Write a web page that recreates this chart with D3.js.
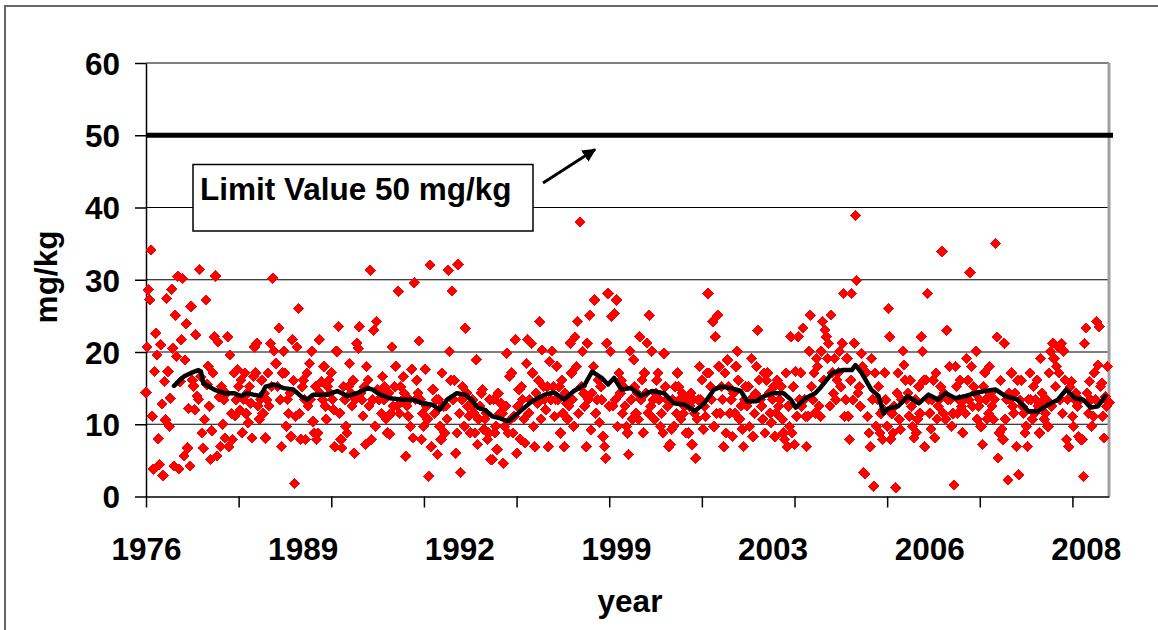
<!DOCTYPE html>
<html><head><meta charset="utf-8">
<script src="https://cdn.jsdelivr.net/npm/d3@7"></script>
<style>
body{margin:0;background:#fff}
svg text{font-family:"Liberation Sans",Arial,sans-serif;font-weight:bold;fill:#000}
</style>
</head><body>
<svg id="chart" width="1158" height="630"></svg>
<script>
// ---- data ----
const yTicks = [0, 10, 20, 30, 40, 50, 60];
const xLabels = ["1976", "1989", "1992", "1999", "2003", "2006", "2008"];
const labelStep = 128.5;   // samples between year labels
const tickStep = 76;       // samples between axis tick marks
const limitValue = 50;
const limitText = "Limit Value 50 mg/kg";
const yTitle = "mg/kg";
const xTitle = "year";

// measured concentrations (mg/kg), in sample order
const values = [
14.4,20.7,28.6,27.2,34.1,11.1,3.8,17.3,22.6,19.6,8.0,4.4,21.0,12.8,2.9,15.9,10.6,27.4,
17.3,9.7,13.6,28.7,20.5,4.2,25.1,19.4,30.5,3.8,15.9,21.7,30.2,5.6,18.9,23.9,6.7,12.2,
4.2,26.3,16.1,15.3,12.0,22.4,13.9,13.4,31.4,16.6,8.8,6.7,10.7,27.2,15.5,18.0,12.5,5.1,
9.1,17.1,22.1,30.5,5.6,21.4,13.8,6.9,15.2,10.0,13.4,8.1,14.3,22.1,6.9,19.6,11.5,7.9,
17.1,11.1,13.4,17.6,15.2,12.0,16.1,8.8,13.4,17.1,11.5,14.3,10.2,15.2,12.9,8.1,16.6,
20.7,17.1,21.2,12.5,10.7,13.4,16.1,11.5,14.3,8.1,13.4,17.1,12.5,21.2,15.2,30.2,20.1,18.4,
18.4,15.2,23.3,13.4,6.9,17.1,20.1,17.1,9.7,13.4,11.5,14.3,8.3,21.7,16.1,1.8,11.1,
20.7,26.0,11.5,7.9,15.2,16.1,13.4,7.9,17.1,12.5,18.4,13.4,20.1,10.4,8.8,15.2,7.9,
8.8,21.7,14.3,15.9,13.4,18.0,12.5,10.7,15.2,16.1,14.3,17.1,13.4,12.0,6.9,20.1,
20.1,23.5,11.5,7.9,6.7,15.2,13.4,9.7,8.8,15.2,18.4,14.3,12.5,16.1,6.0,13.4,
21.2,20.5,23.5,14.3,13.4,11.1,15.2,7.2,18.0,16.1,12.5,31.3,7.9,13.4,23.0,9.7,24.2,
14.8,13.4,14.3,11.5,16.6,13.4,15.2,10.7,8.8,14.3,8.6,11.5,20.7,12.5,15.2,
18.0,12.5,28.4,11.5,15.2,13.4,16.6,14.3,5.6,12.5,11.1,13.4,9.7,17.6,8.1,
29.6,13.4,16.1,14.3,21.5,13.4,7.9,11.5,9.7,17.6,12.5,10.7,2.8,32.0,6.9,14.8,
14.8,11.5,13.4,5.8,13.4,9.7,7.9,17.1,12.5,8.8,12.5,10.7,31.3,20.1,16.1,28.4,
13.4,16.1,6.0,8.8,32.1,11.5,3.3,13.4,15.2,9.7,23.3,14.3,12.5,11.1,8.8,12.5,
13.4,11.5,8.8,18.9,7.2,10.7,12.5,14.3,14.8,9.3,10.7,11.5,7.9,8.8,13.4,5.1,
5.1,13.4,8.8,9.7,6.5,14.3,11.5,12.9,11.5,4.6,9.7,12.5,19.8,8.8,16.6,10.7,
17.1,8.8,11.1,21.7,6.0,12.5,14.8,7.9,15.2,13.4,10.7,7.4,18.4,21.7,11.5,13.4,
21.2,17.1,9.7,6.9,14.3,12.9,16.1,24.2,10.7,20.3,15.2,13.4,12.0,15.2,6.9,18.7,
13.4,20.1,15.2,11.1,13.4,18.0,13.4,15.2,8.8,16.1,11.5,6.9,14.3,12.9,10.7,12.5,
21.2,17.1,13.4,9.7,22.1,18.0,24.2,11.5,38.0,15.2,20.1,14.3,12.5,6.9,21.2,13.4,25.1,
9.2,14.3,18.0,27.2,11.5,13.4,16.1,10.2,15.2,13.4,8.3,6.9,5.3,21.2,28.1,12.5,
20.1,24.9,12.5,25.3,13.4,27.2,9.7,17.1,14.3,16.1,11.5,15.2,12.5,9.7,8.8,5.8,
20.1,13.4,10.7,18.9,15.2,11.5,14.3,10.7,22.1,13.4,16.1,8.8,17.1,14.3,21.2,11.5,
25.1,12.5,20.1,13.4,10.7,14.3,16.1,17.1,13.4,9.7,11.5,8.8,19.8,15.2,13.4,12.5,
6.9,7.2,9.3,13.4,9.7,15.2,11.5,17.1,15.2,13.4,10.7,14.3,11.5,12.5,8.8,13.4,
8.8,12.5,14.3,7.2,13.4,11.5,5.3,10.7,13.4,18.0,13.4,16.1,9.3,12.5,11.1,17.1,
28.1,17.1,15.2,13.4,24.2,9.7,22.1,11.5,25.1,18.0,11.5,15.2,13.4,6.9,17.1,8.8,
18.9,15.2,11.5,13.4,8.3,14.3,11.5,18.0,20.1,16.1,10.7,12.5,9.3,6.9,13.4,15.2,
12.5,15.2,9.7,13.4,19.1,8.3,11.5,14.3,18.0,23.0,16.1,13.4,12.5,10.7,17.1,8.8,
16.1,17.1,14.3,11.5,10.2,13.4,15.2,8.3,11.5,16.1,12.5,13.4,15.2,10.7,8.8,7.9,
17.1,6.9,12.5,9.7,22.1,8.8,15.2,7.2,17.3,11.1,22.1,13.4,17.1,12.5,23.3,13.4,11.1,6.9,
11.1,20.1,25.1,15.2,13.4,17.1,11.5,19.1,18.0,12.5,11.1,20.1,24.2,16.1,23.0,
22.1,19.1,21.2,12.5,25.1,17.1,14.3,19.1,13.4,16.1,17.1,20.1,15.2,21.2,28.1,11.1,13.4,
19.1,11.1,7.9,16.1,28.1,13.4,21.2,38.9,29.9,14.3,15.2,12.5,19.8,18.0,3.3,3.1,
17.1,11.1,8.8,6.9,19.1,13.4,1.4,17.1,9.7,13.4,15.2,8.8,11.5,7.9,12.0,17.1,
13.4,9.7,26.0,22.1,7.9,11.5,8.8,12.5,1.2,14.3,17.1,10.7,9.3,13.4,20.1,18.2,
16.1,13.4,14.3,11.1,16.1,12.5,9.7,8.1,13.4,8.8,10.7,15.2,11.5,22.1,20.1,16.1,
6.9,16.1,28.1,13.4,11.5,9.3,13.4,16.1,8.1,17.1,10.7,12.5,13.4,15.2,33.9,11.5,
14.3,10.7,23.0,13.4,18.0,13.4,9.7,11.5,1.6,18.0,15.2,11.5,13.4,16.1,12.5,8.8,
13.4,11.5,19.1,16.1,13.4,31.0,18.0,12.5,15.2,14.3,20.1,10.7,12.5,13.4,9.7,7.2,
15.2,17.1,13.4,10.7,11.5,18.0,14.3,12.5,10.7,13.4,35.0,22.1,5.3,8.8,16.1,
9.3,7.9,21.2,10.7,13.4,2.3,14.3,13.4,17.1,12.5,11.5,14.3,6.9,16.1,3.0,13.4,
16.1,12.5,11.5,8.8,9.7,6.9,13.4,17.1,13.4,10.7,15.2,11.5,13.4,16.1,12.5,8.8,
19.1,14.3,13.4,10.7,11.5,13.4,9.7,17.1,20.1,12.5,21.2,19.1,15.2,18.0,20.7,17.1,13.4,
21.2,11.5,20.1,16.1,7.9,13.4,6.9,15.2,15.9,11.1,9.7,13.4,14.3,12.5,8.3,13.4,7.9,
7.9,2.8,21.2,23.3,14.3,11.5,15.9,13.4,9.7,11.1,17.1,13.4,24.2,18.2,23.5,15.2,
15.7,11.1,8.1,13.8,12.5,18.0,13.0
];

// moving-average trend (sample index, mg/kg)
const trendIdx = [23,31,37,43,45,47,51,56,64,72,78,83,88,94,98,105,113,121,127,132,137,149,157,165,173,182,186,192,200,211,219,227,235,241,247,255,262,267,272,278,284,289,297,305,316,327,335,343,351,360,366,374,379,384,390,398,406,415,425,433,442,450,458,466,472,480,488,493,501,507,515,523,529,533,541,549,554,563,571,579,582,587,595,601,605,609,617,625,634,642,650,656,664,672,680,688,697,705,715,724,732,740,748,755,762,769,775,781,787];
const trendVal = [15.3,16.6,17.1,17.5,17.3,15.7,15.3,14.8,14.3,14.3,13.9,14.3,14.1,13.9,15.2,15.5,15.0,14.8,13.9,13.4,14.1,14.1,14.6,13.9,14.3,15.0,14.8,14.1,13.6,13.4,13.4,12.9,12.7,12.0,13.4,14.3,14.1,13.4,12.3,12.0,11.1,10.9,10.4,11.5,13.1,14.1,14.4,13.4,14.6,15.5,17.3,16.4,15.5,16.4,14.8,15.0,13.9,14.6,14.3,12.9,12.7,11.8,12.9,14.8,15.2,15.0,14.6,13.2,13.2,13.9,14.3,14.3,13.4,12.3,13.6,14.3,15.2,17.1,17.5,17.5,18.2,17.1,14.8,13.9,11.5,12.2,12.5,13.9,12.9,14.1,13.4,14.3,13.6,13.9,14.3,14.6,14.8,13.9,13.4,11.8,11.8,12.7,13.4,14.8,13.6,13.4,12.3,12.5,13.9];

// ---- drawing ----
const svg = d3.select("#chart");
const L = 146, R = 1109, T = 63, B = 496.5;
const FS = 31.5;

const x = d3.scaleLinear().domain([0, values.length - 1]).range([L, R]);
const y = d3.scaleLinear().domain([0, 60]).range([B, T]);

// outer frame
svg.append("path").attr("d", "M5,630V6H1158").attr("fill", "none")
  .attr("stroke", "#666").attr("stroke-width", 2);

// gridlines
svg.append("g").selectAll("line").data(yTicks.filter(d => d > 0)).join("line")
  .attr("x1", L).attr("x2", R).attr("y1", d => y(d)).attr("y2", d => y(d))
  .attr("stroke", "#000").attr("stroke-width", 1);

// right plot border
svg.append("line").attr("x1", R).attr("x2", R).attr("y1", T).attr("y2", B)
  .attr("stroke", "#a0a0a0").attr("stroke-width", 3);

// y axis
const yAxis = svg.append("g").attr("transform", `translate(${L},0)`)
  .call(d3.axisLeft(y).tickValues(yTicks).tickSize(11).tickSizeOuter(0).tickPadding(15));
yAxis.selectAll("text").style("font-size", FS + "px").attr("dy", "0.36em");
yAxis.selectAll("line,path").attr("stroke", "#000").attr("stroke-width", 1.5);

// x axis ticks
const xAxis = svg.append("g").attr("transform", `translate(0,${B})`)
  .call(d3.axisBottom(x).tickValues(d3.range(0, values.length, tickStep))
    .tickSize(11).tickSizeOuter(0).tickFormat(""));
xAxis.selectAll("line,path").attr("stroke", "#000").attr("stroke-width", 1.5);

// x labels
const xLab = svg.append("g").attr("transform", `translate(0,${B})`)
  .call(d3.axisBottom(x).tickValues(xLabels.map((d, i) => i * labelStep))
    .tickSize(0).tickPadding(41).tickFormat((d, i) => xLabels[i]));
xLab.select("path").remove();
xLab.selectAll("text").style("font-size", FS + "px");

// points
const diamond = d3.symbol(d3.symbolSquare, 64);
svg.append("g").selectAll("path").data(values).join("path")
  .attr("d", diamond)
  .attr("transform", (d, i) => `translate(${x(i)},${y(d)}) rotate(45)`)
  .attr("fill", "#ff0000")
  .attr("shape-rendering", "crispEdges");

// trend line
const trend = trendIdx.map((d, i) => [d, trendVal[i]]);
svg.append("path").datum(trend)
  .attr("d", d3.line().x(d => x(d[0])).y(d => y(d[1])))
  .attr("fill", "none").attr("stroke", "#000").attr("stroke-width", 4.5)
  .attr("stroke-linejoin", "round").attr("stroke-linecap", "round");

// limit line
svg.append("line").attr("x1", L).attr("x2", R + 4)
  .attr("y1", y(limitValue)).attr("y2", y(limitValue))
  .attr("stroke", "#000").attr("stroke-width", 5);

// annotation box
svg.append("rect").attr("x", 193).attr("y", 164.5).attr("width", 340).attr("height", 66.5)
  .attr("fill", "#fff").attr("stroke", "#000").attr("stroke-width", 1.5);
svg.append("text").attr("x", 200).attr("y", 199.5).style("font-size", FS + "px").text(limitText);

// arrow
const defs = svg.append("defs");
defs.append("marker").attr("id", "ah").attr("viewBox", "0 0 10 10").attr("refX", 9).attr("refY", 5)
  .attr("markerWidth", 4.5).attr("markerHeight", 4.5).attr("orient", "auto")
  .append("path").attr("d", "M0,0L10,5L0,10Z").attr("fill", "#000");
svg.append("line").attr("x1", 543).attr("y1", 183).attr("x2", 595).attr("y2", 149.5)
  .attr("stroke", "#000").attr("stroke-width", 3).attr("marker-end", "url(#ah)");

// titles
svg.append("text").attr("transform", "translate(57,277) rotate(-90)")
  .attr("text-anchor", "middle").style("font-size", FS + "px").text(yTitle);
svg.append("text").attr("x", 630).attr("y", 612).attr("text-anchor", "middle")
  .style("font-size", FS + "px").text(xTitle);
</script>
</body></html>
